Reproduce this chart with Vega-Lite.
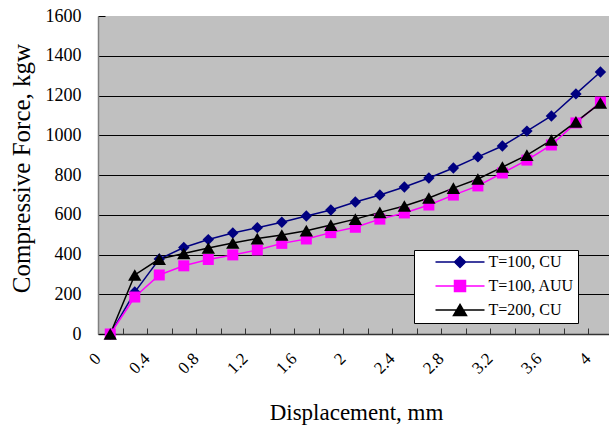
{
  "$schema": "https://vega.github.io/schema/vega-lite/v6.json",
  "autosize": "none",
  "width": 511,
  "height": 318,
  "padding": {"left": 98, "top": 16, "right": 0, "bottom": 96},
  "background": "white",
  "config": {
    "view": {"fill": "#C0C0C0", "stroke": null},
    "font": "Liberation Serif",
    "axis": {"labelFont": "Liberation Serif", "titleFont": "Liberation Serif", "labelColor": "black", "titleColor": "black", "titleFontWeight": "normal"},
    "legend": {"labelFont": "Liberation Serif"}
  },
  "data": {
    "values": [
      {"x": 0.1, "series": "T=100, CU", "force": 0},
      {"x": 0.3, "series": "T=100, CU", "force": 211},
      {"x": 0.5, "series": "T=100, CU", "force": 377},
      {"x": 0.7, "series": "T=100, CU", "force": 435},
      {"x": 0.9, "series": "T=100, CU", "force": 475},
      {"x": 1.1, "series": "T=100, CU", "force": 508},
      {"x": 1.3, "series": "T=100, CU", "force": 535},
      {"x": 1.5, "series": "T=100, CU", "force": 562},
      {"x": 1.7, "series": "T=100, CU", "force": 594},
      {"x": 1.9, "series": "T=100, CU", "force": 624},
      {"x": 2.1, "series": "T=100, CU", "force": 664},
      {"x": 2.3, "series": "T=100, CU", "force": 699},
      {"x": 2.5, "series": "T=100, CU", "force": 740},
      {"x": 2.7, "series": "T=100, CU", "force": 785},
      {"x": 2.9, "series": "T=100, CU", "force": 835},
      {"x": 3.1, "series": "T=100, CU", "force": 891},
      {"x": 3.3, "series": "T=100, CU", "force": 946},
      {"x": 3.5, "series": "T=100, CU", "force": 1021},
      {"x": 3.7, "series": "T=100, CU", "force": 1097},
      {"x": 3.9, "series": "T=100, CU", "force": 1208},
      {"x": 4.1, "series": "T=100, CU", "force": 1318},
      {"x": 0.1, "series": "T=100, AUU", "force": 0},
      {"x": 0.3, "series": "T=100, AUU", "force": 186},
      {"x": 0.5, "series": "T=100, AUU", "force": 297},
      {"x": 0.7, "series": "T=100, AUU", "force": 343},
      {"x": 0.9, "series": "T=100, AUU", "force": 375},
      {"x": 1.1, "series": "T=100, AUU", "force": 398},
      {"x": 1.3, "series": "T=100, AUU", "force": 423},
      {"x": 1.5, "series": "T=100, AUU", "force": 456},
      {"x": 1.7, "series": "T=100, AUU", "force": 478},
      {"x": 1.9, "series": "T=100, AUU", "force": 510},
      {"x": 2.1, "series": "T=100, AUU", "force": 537},
      {"x": 2.3, "series": "T=100, AUU", "force": 578},
      {"x": 2.5, "series": "T=100, AUU", "force": 609},
      {"x": 2.7, "series": "T=100, AUU", "force": 649},
      {"x": 2.9, "series": "T=100, AUU", "force": 699},
      {"x": 3.1, "series": "T=100, AUU", "force": 745},
      {"x": 3.3, "series": "T=100, AUU", "force": 810},
      {"x": 3.5, "series": "T=100, AUU", "force": 875},
      {"x": 3.7, "series": "T=100, AUU", "force": 951},
      {"x": 3.9, "series": "T=100, AUU", "force": 1062},
      {"x": 4.1, "series": "T=100, AUU", "force": 1167},
      {"x": 0.1, "series": "T=200, CU", "force": 0},
      {"x": 0.3, "series": "T=200, CU", "force": 297},
      {"x": 0.5, "series": "T=200, CU", "force": 377},
      {"x": 0.7, "series": "T=200, CU", "force": 405},
      {"x": 0.9, "series": "T=200, CU", "force": 433},
      {"x": 1.1, "series": "T=200, CU", "force": 458},
      {"x": 1.3, "series": "T=200, CU", "force": 480},
      {"x": 1.5, "series": "T=200, CU", "force": 498},
      {"x": 1.7, "series": "T=200, CU", "force": 520},
      {"x": 1.9, "series": "T=200, CU", "force": 548},
      {"x": 2.1, "series": "T=200, CU", "force": 578},
      {"x": 2.3, "series": "T=200, CU", "force": 612},
      {"x": 2.5, "series": "T=200, CU", "force": 644},
      {"x": 2.7, "series": "T=200, CU", "force": 684},
      {"x": 2.9, "series": "T=200, CU", "force": 734},
      {"x": 3.1, "series": "T=200, CU", "force": 780},
      {"x": 3.3, "series": "T=200, CU", "force": 840},
      {"x": 3.5, "series": "T=200, CU", "force": 900},
      {"x": 3.7, "series": "T=200, CU", "force": 976},
      {"x": 3.9, "series": "T=200, CU", "force": 1067},
      {"x": 4.1, "series": "T=200, CU", "force": 1162}
    ]
  },
  "encoding": {
    "x": {
      "field": "x", "type": "quantitative",
      "scale": {"domain": [0, 4.17], "nice": false, "zero": false},
      "axis": {
        "title": "Displacement, mm",
        "titleFontSize": 23,
        "titleX": 258, "titleY": 85, "titleBaseline": "alphabetic", "titleAnchor": "middle", "titleAlign": "center",
        "values": [0, 0.2, 0.4, 0.6, 0.8, 1, 1.2, 1.4, 1.6, 1.8, 2, 2.2, 2.4, 2.6, 2.8, 3, 3.2, 3.4, 3.6, 3.8, 4],
        "labelExpr": "round(datum.value*10) % 4 == 0 ? toString(round(datum.value*10)/10) : ''",
        "labelAngle": -45, "labelAlign": "right", "labelBaseline": "top",
        "labelFontSize": 17, "labelPadding": 22, "labelOffset": -6, "labelFlush": false, "labelOverlap": false,
        "tickSize": -6, "tickColor": "#333333", "tickWidth": 1,
        "domainColor": "#333333", "domainWidth": 1.5,
        "grid": false
      }
    },
    "y": {
      "field": "force", "type": "quantitative",
      "scale": {"domain": [0, 1600], "nice": false},
      "axis": {
        "title": "Compressive Force, kgw",
        "titleFontSize": 25,
        "titleAngle": -90, "titleX": -69, "titleY": 152, "titleBaseline": "alphabetic", "titleAlign": "center",
        "values": [0, 200, 400, 600, 800, 1000, 1200, 1400, 1600],
        "format": "d",
        "labelFontSize": 18, "labelPadding": 24,
        "tickSize": -7, "tickColor": "black",
        "domainColor": "#808080", "domainWidth": 1.5,
        "grid": true, "gridColor": "black", "gridWidth": 1,
        "gridOpacity": {"condition": {"test": "datum.value === 1600 || datum.value === 0", "value": 0}, "value": 1}
      }
    },
    "color": {
      "field": "series", "type": "nominal",
      "scale": {"domain": ["T=100, CU", "T=100, AUU", "T=200, CU"], "range": ["#000080", "#FF00FF", "#000000"]},
      "legend": {
        "title": null,
        "orient": "none", "legendX": 316, "legendY": 234,
        "fillColor": "white", "strokeColor": "black",
        "padding": 4,
        "symbolSize": 100, "symbolOffset": 34, "symbolStrokeWidth": 1.5,
        "labelFontSize": 16, "labelOffset": 20.5, "rowPadding": 6,
        "labelExpr": "datum.label + '\u00a0\u00a0\u00a0\u00a0\u00a0\u00a0'",
        "labelLimit": 300,
        "encode": {
          "symbols": {
            "update": {
              "shape": {"signal": "datum.value === 'T=100, CU' ? 'M-4.9,0H4.9M-1.1,0L0,-1.1L1.1,0L0,1.1Z' : (datum.value === 'T=100, AUU' ? 'M-4.9,0H4.9M-1.1,-1.1H1.1V1.1H-1.1Z' : 'M-4.9,0H4.9M0,-1.1L1.3,1.1L-1.3,1.1Z')"},
              "stroke": {"signal": "scale('color', datum.value)"},
              "fill": {"signal": "scale('color', datum.value)"}
            }
          }
        }
      }
    }
  },
  "layer": [
    {"mark": {"type": "line", "strokeWidth": 1.5}},
    {
      "transform": [{"filter": "datum.series === 'T=100, CU'"}],
      "mark": {"type": "point", "filled": true, "opacity": 1, "strokeWidth": 0, "shape": "diamond", "size": 130}
    },
    {
      "transform": [{"filter": "datum.series === 'T=100, AUU'"}],
      "mark": {"type": "point", "filled": true, "opacity": 1, "strokeWidth": 0, "shape": "square", "size": 121}
    },
    {
      "transform": [{"filter": "datum.series === 'T=200, CU'"}],
      "mark": {"type": "point", "filled": true, "opacity": 1, "strokeWidth": 0, "shape": "triangle-up", "size": 180}
    }
  ]
}
